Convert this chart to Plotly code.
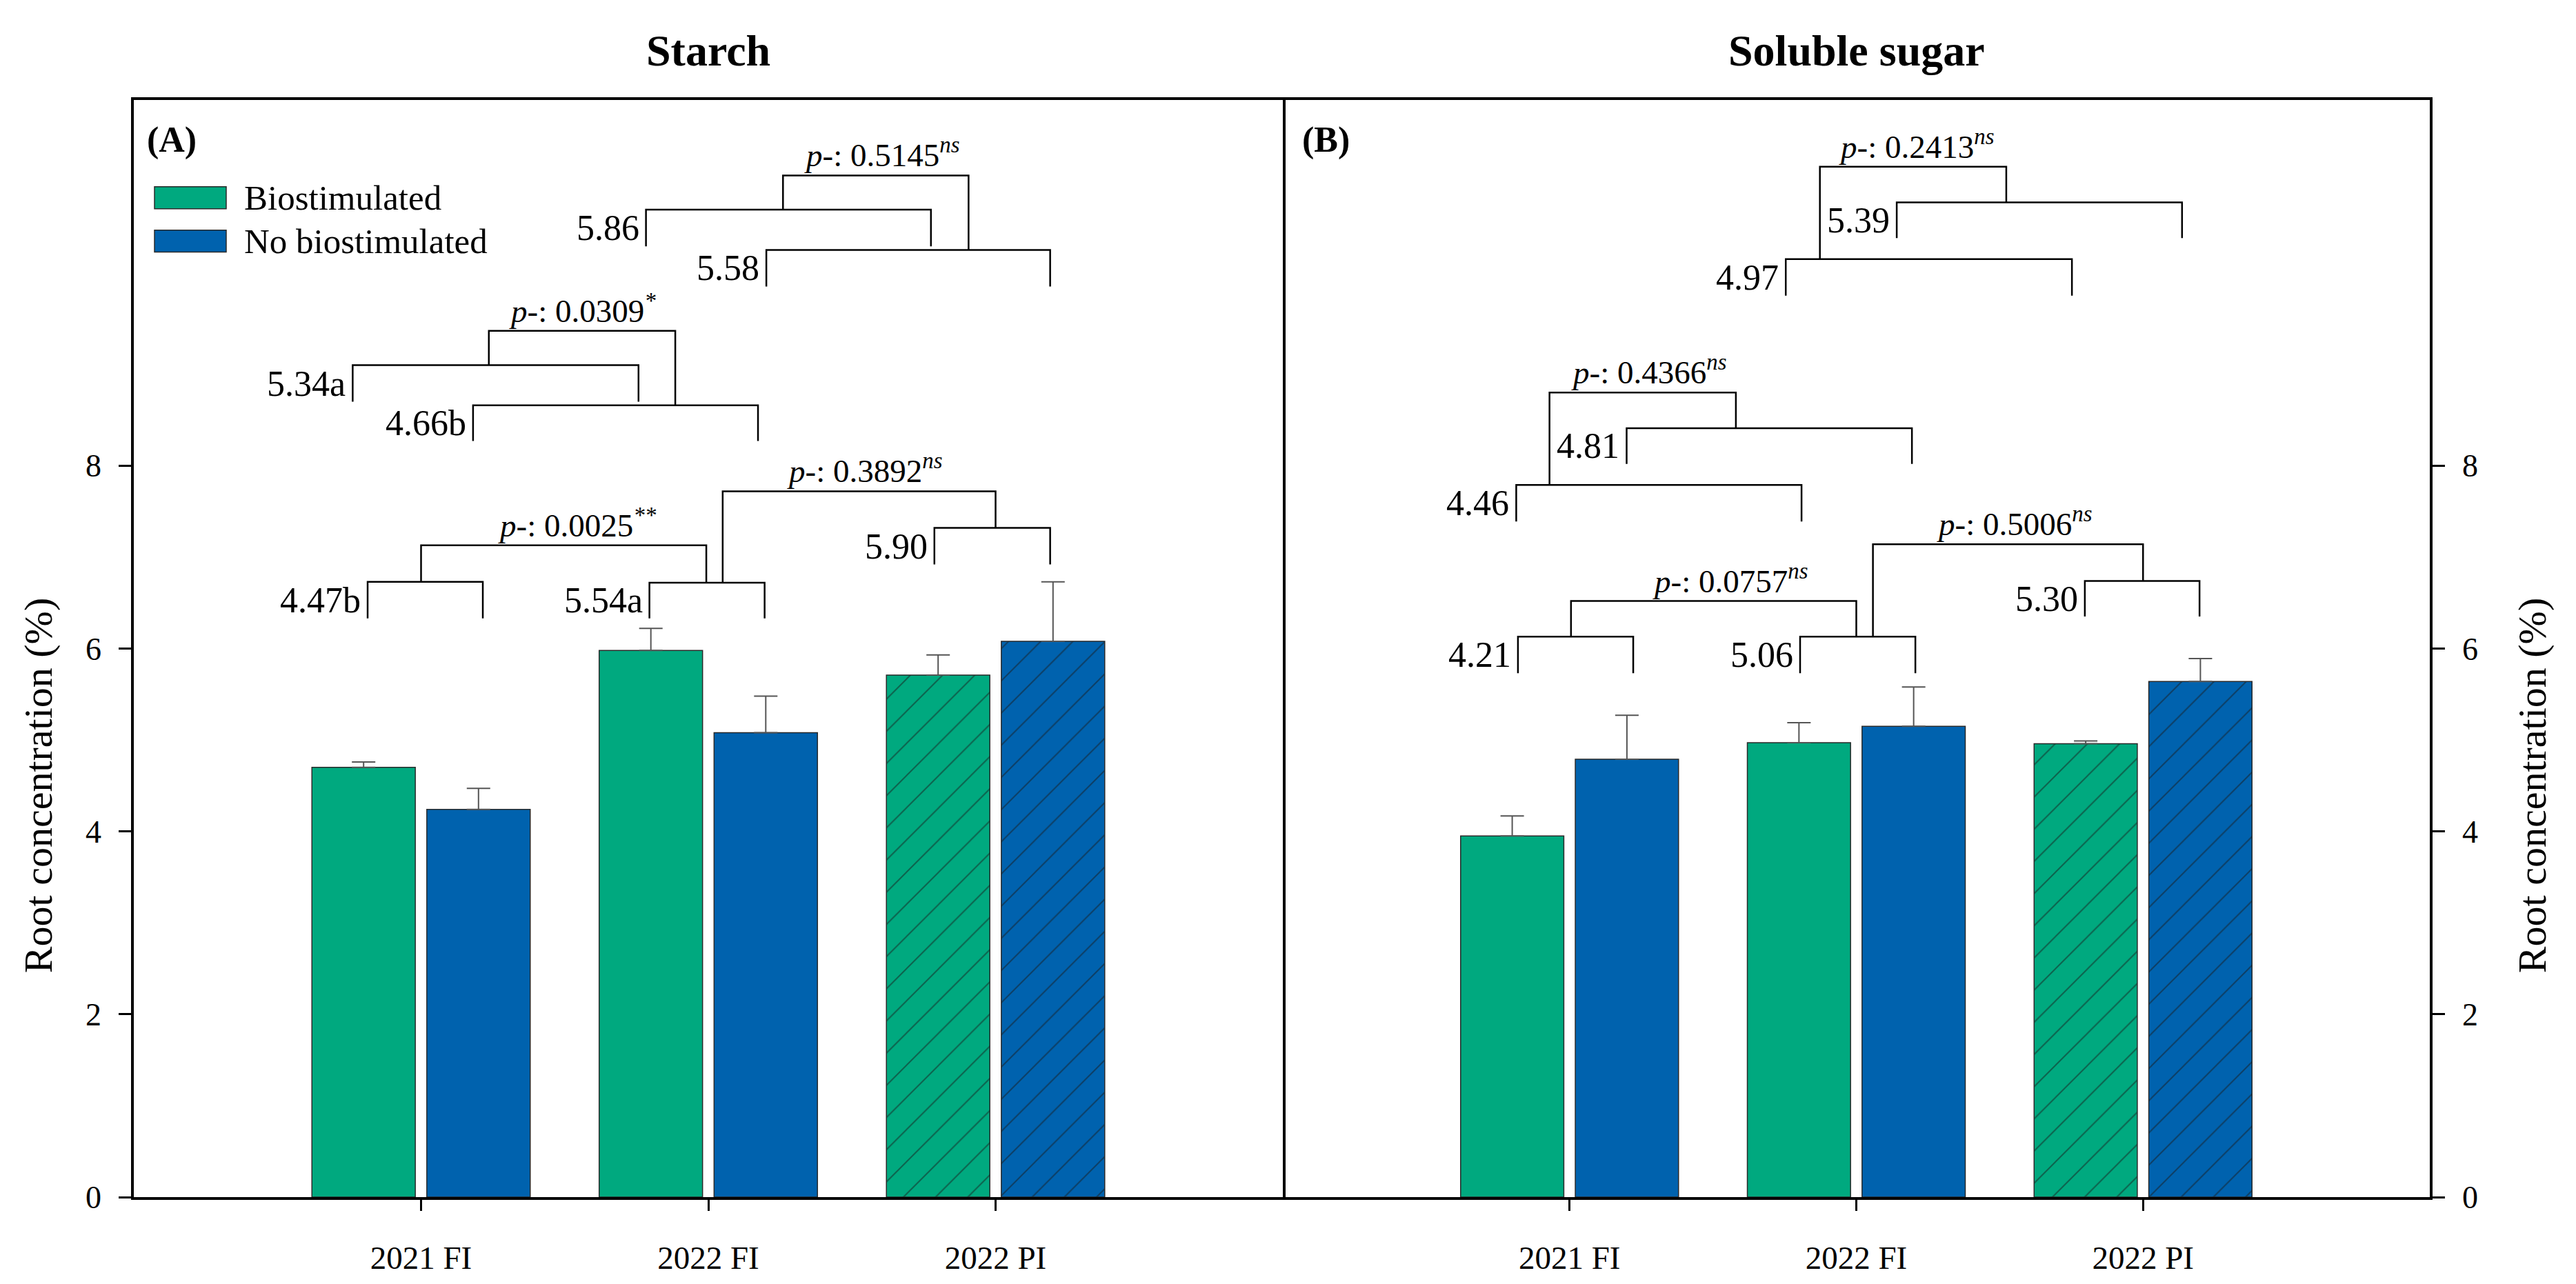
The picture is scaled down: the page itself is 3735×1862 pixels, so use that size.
import plotly.graph_objects as go

# ---------------- data ----------------
categories = ["2021 FI", "2022 FI", "2022 PI"]
series_names = ["Biostimulated", "No biostimulated"]

starch_bio = [4.70, 5.98, 5.71]
starch_bio_err = [0.06, 0.24, 0.22]
starch_nobio = [4.24, 5.08, 6.08]
starch_nobio_err = [0.23, 0.40, 0.65]

sugar_bio = [3.95, 4.97, 4.96]
sugar_bio_err = [0.22, 0.22, 0.03]
sugar_nobio = [4.79, 5.15, 5.64]
sugar_nobio_err = [0.48, 0.43, 0.25]

hatch = ["", "", "/"]
y_ticks = [0, 2, 4, 6, 8]

# bracket labels (mean values) and comparison p-values
starch_means = ["4.47b", "5.54a", "5.90", "5.34a", "4.66b", "5.86", "5.58"]
sugar_means = ["4.21", "5.06", "5.30", "4.81", "4.46", "5.39", "4.97"]
starch_p = ["0.0025", "0.3892", "0.0309", "0.5145"]
starch_sig = ["**", "ns", "*", "ns"]
sugar_p = ["0.0757", "0.5006", "0.4366", "0.2413"]
sugar_sig = ["ns", "ns", "ns", "ns"]

# ---------------- annotation geometry (axis units) ----------------
# sub-brackets: (x_left, x_right, y_top, y_bottom)
starch_sub = [(-0.186, 0.215, 6.73, 6.33), (0.795, 1.196, 6.72, 6.33),
              (1.787, 2.19, 7.32, 6.92), (-0.238, 0.757, 9.10, 8.70),
              (0.181, 1.173, 8.66, 8.27), (0.783, 1.775, 10.80, 10.40),
              (1.202, 2.19, 10.36, 9.96)]
sugar_sub = [(-0.18, 0.222, 6.13, 5.73), (0.804, 1.206, 6.13, 5.73),
             (1.797, 2.197, 6.74, 6.35), (0.199, 1.194, 8.41, 8.02),
             (-0.186, 0.809, 7.79, 7.39), (1.141, 2.136, 10.88, 10.49),
             (0.754, 1.752, 10.26, 9.86)]
# connectors: (x1, x2, y_top, y_bottom1, y_bottom2), p-label x
starch_con = [(0.0, 0.993, 7.13, 6.73, 6.72), (1.05, 2.0, 7.72, 6.72, 7.32),
              (0.236, 0.885, 9.476, 9.10, 8.66), (1.26, 1.906, 11.175, 10.80, 10.36)]
starch_plab_x = [0.545, 1.543, 0.563, 1.605]
sugar_con = [(0.005, 1.0, 6.52, 6.13, 6.13), (1.058, 2.0, 7.14, 6.13, 6.74),
             (-0.07, 0.58, 8.80, 7.79, 8.41), (0.873, 1.523, 11.27, 10.26, 10.88)]
sugar_plab_x = [0.5606, 1.552, 0.275, 1.2095]

# ---------------- style ----------------
FONT = "Liberation Serif"
GREEN = "#00A97F"
BLUE = "#0062AE"
W, H = 3735, 1862
L, R, T, B = 194, 3523, 145, 1739
SPLIT = 1860


def px(xp):
    return (xp - L) / (R - L)


def py(yp):
    return (B - yp) / (B - T)


pos = list(range(len(categories)))
fig = go.Figure()


def add_bars(vals, errs, color, name, xa, ya):
    fig.add_trace(go.Bar(
        x=pos, y=vals, name=name, xaxis=xa, yaxis=ya, showlegend=False,
        marker=dict(color=color, line=dict(color="#2a2a2a", width=1.5),
                    pattern=dict(shape=hatch, fgcolor="#1a1a1a", size=33,
                                 solidity=0.06)),
        error_y=dict(type="data", array=errs, arrayminus=[0] * len(errs),
                     symmetric=False, color="#555555", thickness=2, width=17),
    ))


add_bars(starch_bio, starch_bio_err, GREEN, series_names[0], "x", "y")
add_bars(starch_nobio, starch_nobio_err, BLUE, series_names[1], "x", "y")
add_bars(sugar_bio, sugar_bio_err, GREEN, series_names[0], "x2", "y2")
add_bars(sugar_nobio, sugar_nobio_err, BLUE, series_names[1], "x2", "y2")

shapes = []
annots = []


def add_brackets(sub, labels, con, plabs, psig, plx, xr, yr):
    for (xl, xrr, yt, yb), lab in zip(sub, labels):
        shapes.append(dict(type="path", xref=xr, yref=yr,
                           path=f"M {xl},{yb} L {xl},{yt} L {xrr},{yt} L {xrr},{yb}",
                           line=dict(color="black", width=2.5)))
        annots.append(dict(x=xl, y=(yt + yb) / 2, xref=xr, yref=yr, text=lab,
                           showarrow=False, xanchor="right", yanchor="middle",
                           xshift=-8, font=dict(family=FONT, size=52, color="black")))
    for (x1, x2, yt, yb1, yb2), p, s, lx in zip(con, plabs, psig, plx):
        shapes.append(dict(type="path", xref=xr, yref=yr,
                           path=f"M {x1},{yb1} L {x1},{yt} L {x2},{yt} L {x2},{yb2}",
                           line=dict(color="black", width=2.5)))
        annots.append(dict(x=lx, y=yt, xref=xr, yref=yr,
                           text=f"<i>p</i>-: {p}<sup><i>{s}</i></sup>",
                           showarrow=False, xanchor="center", yanchor="bottom",
                           yshift=1, font=dict(family=FONT, size=47, color="black")))


add_brackets(starch_sub, starch_means, starch_con, starch_p, starch_sig,
             starch_plab_x, "x", "y")
add_brackets(sugar_sub, sugar_means, sugar_con, sugar_p, sugar_sig,
             sugar_plab_x, "x2", "y2")

# panel titles and letters
for txt, xc in [("Starch", (L + SPLIT) / 2), ("Soluble sugar", (SPLIT + R) / 2)]:
    annots.append(dict(x=px(xc), y=py(73), xref="paper", yref="paper",
                       text=f"<b>{txt}</b>", showarrow=False, xanchor="center",
                       yanchor="middle", font=dict(family=FONT, size=64, color="black")))
for txt, xl in [("(A)", 211), ("(B)", 1886)]:
    annots.append(dict(x=px(xl), y=py(203), xref="paper", yref="paper",
                       text=f"<b>{txt}</b>", showarrow=False, xanchor="left",
                       yanchor="middle", font=dict(family=FONT, size=52, color="black")))

# y axis titles
for xc in [55, 3671]:
    annots.append(dict(x=px(xc), y=py(1141), xref="paper", yref="paper",
                       text="Root concentration (%)", textangle=-90, showarrow=False,
                       xanchor="center", yanchor="middle",
                       font=dict(family=FONT, size=58, color="black")))

# legend (manual)
for name, color, yc in [(series_names[0], GREEN, 287), (series_names[1], BLUE, 350)]:
    shapes.append(dict(type="rect", xref="paper", yref="paper",
                       x0=px(224), x1=px(328), y0=py(yc - 16), y1=py(yc + 16),
                       fillcolor=color, line=dict(color="#2a2a2a", width=1.5)))
    annots.append(dict(x=px(352), y=py(yc), xref="paper", yref="paper", text=name,
                       showarrow=False, xanchor="left", yanchor="middle",
                       font=dict(family=FONT, size=51, color="black")))

d = px(SPLIT)
xax = dict(range=[-1, 3], tickvals=pos, ticktext=categories, ticks="outside",
           ticklen=16, tickwidth=2.5, tickcolor="black", showline=True,
           linecolor="black", linewidth=3.5, mirror=True, showgrid=False,
           zeroline=False, tickfont=dict(family=FONT, size=47, color="black"),
           ticklabelstandoff=28)
yax = dict(range=[0, 12], tickvals=y_ticks, ticks="outside", ticklen=18,
           tickwidth=2.5, tickcolor="black", showline=True, linecolor="black",
           linewidth=3.5, showgrid=False, zeroline=False,
           tickfont=dict(family=FONT, size=46, color="black"), ticklabelstandoff=16)

fig.update_layout(
    width=W, height=H,
    margin=dict(l=L, r=W - R, t=T, b=H - B, pad=0),
    paper_bgcolor="white", plot_bgcolor="white",
    barmode="group", bargap=0.2, bargroupgap=0.1,
    xaxis=dict(xax, domain=[0, d], anchor="y"),
    yaxis=dict(yax, anchor="x", side="left", mirror=True),
    xaxis2=dict(xax, domain=[d, 1], anchor="y2"),
    yaxis2=dict(yax, anchor="x2", side="right", mirror=False),
    shapes=shapes, annotations=annots, showlegend=False,
    font=dict(family=FONT, color="black"),
)

fig.write_html("out.html", config={"displayModeBar": False},
               post_script="document.body.style.margin='0';")
